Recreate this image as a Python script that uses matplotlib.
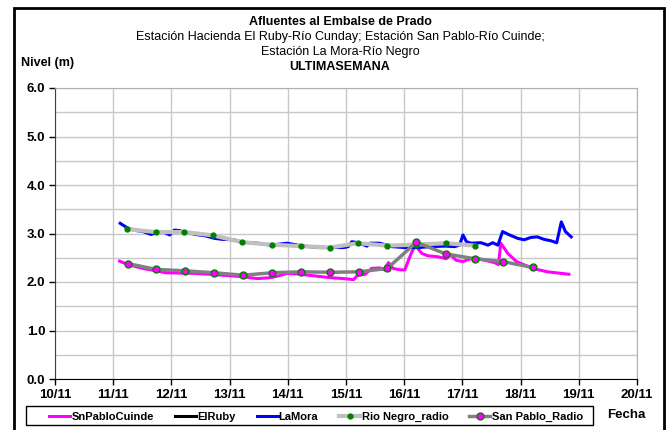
import matplotlib
matplotlib.use('Agg')
import matplotlib.pyplot as plt
from matplotlib.patches import Rectangle
from matplotlib.ticker import MultipleLocator

plt.rcParams['font.family'] = ['Liberation Sans', 'DejaVu Sans']

# Data (x = day of November)
lamora_t = [11.12, 11.25, 11.40, 11.51, 11.65, 11.74, 11.88, 11.97, 12.05, 12.14, 12.22, 12.42, 12.59,
            12.74, 12.87, 13.08, 13.22, 13.48, 13.70, 13.99, 14.22, 14.50, 14.73, 14.96, 15.04, 15.10,
            15.21, 15.36, 15.41, 15.58, 15.78, 16.01, 16.24, 16.47, 16.70, 16.87, 16.95, 17.01, 17.07,
            17.15, 17.32, 17.44, 17.52, 17.61, 17.69, 17.81, 17.95, 18.06, 18.18, 18.29, 18.40, 18.52,
            18.62, 18.70, 18.77, 18.87]
lamora_v = [3.21, 3.11, 3.06, 3.04, 2.98, 3.02, 3.02, 2.97, 3.07, 3.06, 3.03, 2.98, 2.95,
            2.90, 2.88, 2.87, 2.82, 2.80, 2.76, 2.80, 2.75, 2.71, 2.71, 2.71, 2.73, 2.83,
            2.81, 2.74, 2.80, 2.80, 2.73, 2.71, 2.71, 2.73, 2.74, 2.73, 2.76, 2.97, 2.83,
            2.80, 2.81, 2.76, 2.81, 2.76, 3.04, 2.97, 2.90, 2.87, 2.92, 2.93, 2.88, 2.85,
            2.81, 3.24, 3.04, 2.93]

snpablo_t = [11.11, 11.25, 11.51, 11.91, 12.36, 12.65, 13.22, 13.48, 13.70, 13.82, 13.99, 14.22,
             14.50, 14.73, 14.96, 15.13, 15.20, 15.33, 15.44, 15.58, 15.66, 15.73, 15.81, 15.93,
             16.01, 16.12, 16.19, 16.30, 16.41, 16.58, 16.72, 16.80, 16.89, 17.01, 17.09, 17.21,
             17.38, 17.55, 17.62, 17.66, 17.78, 17.93, 18.21, 18.46, 18.83]
snpablo_v = [2.43, 2.36, 2.28, 2.19, 2.18, 2.16, 2.11, 2.07, 2.09, 2.12, 2.18, 2.16,
             2.12, 2.09, 2.07, 2.05, 2.14, 2.16, 2.28, 2.29, 2.25, 2.40, 2.28, 2.25,
             2.25, 2.59, 2.76, 2.59, 2.54, 2.52, 2.48, 2.56, 2.45, 2.42, 2.46, 2.50,
             2.45, 2.40, 2.36, 2.80, 2.59, 2.42, 2.28, 2.21, 2.16]

elruby_t = []
elruby_v = []

rionegro_t = [11.24, 11.73, 12.22, 12.72, 13.22, 13.72, 14.23, 14.72, 15.21, 15.71, 16.21, 16.71, 17.21]
rionegro_v = [3.09, 3.03, 3.03, 2.96, 2.82, 2.77, 2.74, 2.71, 2.80, 2.75, 2.77, 2.80, 2.75]

sanpablo_radio_t = [11.25, 11.74, 12.24, 12.74, 13.23, 13.73, 14.23, 14.73, 15.23, 15.71, 16.21,
                    16.71, 17.21, 17.70, 18.21]
sanpablo_radio_v = [2.38, 2.26, 2.23, 2.19, 2.14, 2.19, 2.21, 2.20, 2.21, 2.28, 2.82,
                    2.58, 2.48, 2.42, 2.30]

days = list(range(10, 21))
day_labels = [f'{d}/11' for d in days]

fig = plt.figure(figsize=(6.68, 4.30), dpi=100)
ax = fig.add_axes([55/668, 1 - 379/430, 582/668, 291/430])

ax.plot(snpablo_t, snpablo_v, color='#FF00FF', lw=2.2, label='SnPabloCuinde')
ax.plot(elruby_t, elruby_v, color='black', lw=2.2, label='ElRuby')
ax.plot(lamora_t, lamora_v, color='#0000FF', lw=2.2, label='LaMora')
ax.plot(rionegro_t, rionegro_v, color='#C0C0C0', lw=3, marker='o', ms=3.5,
        mfc='#008000', mec='#008000', label='Rio Negro_radio')
ax.plot(sanpablo_radio_t, sanpablo_radio_v, color='#808080', lw=2.5, marker='o', ms=5,
        mfc='#FF00FF', mec='#008000', mew=1, label='San Pablo_Radio')

ax.set_xlim(10, 20)
ax.set_ylim(0, 6)
ax.set_xticks(days)
ax.set_xticklabels(day_labels, fontweight='bold', fontsize=9.5)
ax.yaxis.set_major_locator(MultipleLocator(1.0))
ax.yaxis.set_minor_locator(MultipleLocator(0.5))
ax.set_yticklabels([f'{v:.1f}' for v in ax.get_yticks()], fontweight='bold', fontsize=9.5)
ax.grid(True, which='both', color='#C8C8C8', lw=1)
ax.tick_params(which='minor', length=0)
ax.tick_params(which='major', length=4, direction='out', width=1, pad=3)
for s in ['top', 'right']:
    ax.spines[s].set_color('#B0B0B0')
ax.spines['left'].set_color('#404040')
ax.spines['bottom'].set_color('black')
ax.set_axisbelow(True)

fig.text(0.509, 1 - 22/430, 'Afluentes al Embalse de Prado', ha='center', va='center',
         fontsize=9, fontweight='bold')
fig.text(0.509, 1 - 37/430, 'Estación Hacienda El Ruby-Río Cunday; Estación San Pablo-Río Cuinde;',
         ha='center', va='center', fontsize=9)
fig.text(0.509, 1 - 52/430, 'Estación La Mora-Río Negro', ha='center', va='center', fontsize=9)
fig.text(0.509, 1 - 67/430, 'ULTIMASEMANA', ha='center', va='center', fontsize=9, fontweight='bold')
fig.text(21/668, 1 - 63/430, 'Nivel (m)', ha='left', va='center', fontsize=9, fontweight='bold')
fig.text(626/668, 1 - 415/430, 'Fecha', ha='center', va='center', fontsize=9.5, fontweight='bold')

# legend entries spread across the box, frame drawn separately
leg = fig.legend(loc='lower left', bbox_to_anchor=(46/668, 1 - 425/430, 540/668, 19/430),
                 mode='expand', ncol=5, frameon=False,
                 prop={'weight': 'bold', 'size': 8}, handlelength=1.9, handletextpad=0.1,
                 borderpad=0.3, borderaxespad=0)
fig.patches.append(Rectangle((26/668, 1 - 425/430), 567/668, 19/430, transform=fig.transFigure,
                             fill=False, edgecolor='black', lw=1))

fig.patches.append(Rectangle((14/668, -0.02), 650/668, 1.02 - 8/430, transform=fig.transFigure,
                             fill=False, edgecolor='black', lw=2))

fig.savefig('out.png', dpi=100)
